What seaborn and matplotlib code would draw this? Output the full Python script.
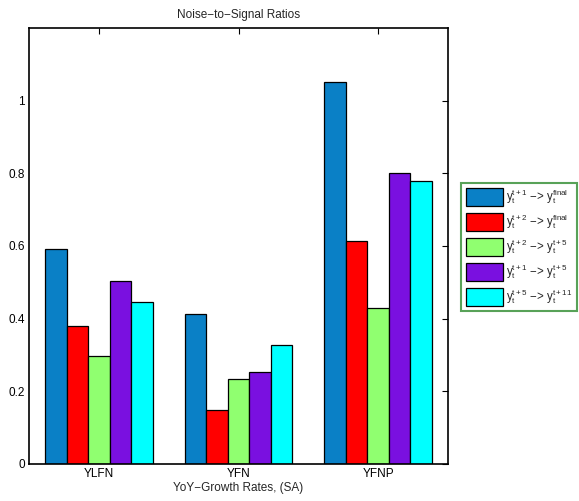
import numpy as np
import pandas as pd
import matplotlib
matplotlib.use("Agg")
import matplotlib.pyplot as plt
import matplotlib.ticker as mticker
from matplotlib.patches import Patch
import seaborn as sns

# data
groups = ["YLFN", "YFN", "YFNP"]
series = ["s1", "s2", "s3", "s4", "s5"]
labels = [
    "$y_t^{t+1}$ \u2212> $y_t^{final}$",
    "$y_t^{t+2}$ \u2212> $y_t^{final}$",
    "$y_t^{t+2}$ \u2212> $y_t^{t+5}$",
    "$y_t^{t+1}$ \u2212> $y_t^{t+5}$",
    "$y_t^{t+5}$ \u2212> $y_t^{t+11}$",
]
vals_s1 = [0.593, 0.413, 1.050]
vals_s2 = [0.380, 0.148, 0.613]
vals_s3 = [0.298, 0.234, 0.430]
vals_s4 = [0.503, 0.252, 0.800]
vals_s5 = [0.447, 0.328, 0.780]
colors = ["#0a80c6", "#ff0000", "#90ff70", "#7a10e0", "#00ffff"]

sns.set_style("white")
plt.rcParams["font.family"] = ["Liberation Sans", "DejaVu Sans"]
plt.rcParams["mathtext.fontset"] = "custom"
plt.rcParams["mathtext.rm"] = "Liberation Sans"
plt.rcParams["mathtext.it"] = "Liberation Sans"
plt.rcParams["mathtext.default"] = "regular"

rows = []
for s, v in zip(series, [vals_s1, vals_s2, vals_s3, vals_s4, vals_s5]):
    for g, x in zip(groups, v):
        rows.append({"group": g, "series": s, "value": x})
df = pd.DataFrame(rows)

fig = plt.figure(figsize=(5.79, 5.01), dpi=100)
ax = fig.add_axes([29 / 579, 37 / 501, 419 / 579, 436 / 501])

sns.barplot(data=df, x="group", y="value", hue="series", order=groups,
            hue_order=series, palette=colors, saturation=1, width=0.769,
            gap=0, edgecolor="black", linewidth=0.9, errorbar=None, ax=ax,
            legend=False)

ax.set_xlim(-0.5, 2.5)
ax.set_ylim(0, 1.2)
ax.set_yticks([0, 0.2, 0.4, 0.6, 0.8, 1.0])
ax.yaxis.set_major_formatter(mticker.FormatStrFormatter("%g"))
ax.tick_params(direction="in", length=4, width=0.8, top=True, right=True,
               labelsize=8.5, pad=3, colors="black")
for sp in ax.spines.values():
    sp.set_color("black")
    sp.set_linewidth(1.2)
    sp.set_visible(True)

ax.set_title("Noise\u2212to\u2212Signal Ratios", fontsize=8.5, pad=7)
ax.set_xlabel("YoY\u2212Growth Rates, (SA)", fontsize=8.5, labelpad=1)
ax.set_ylabel("")

handles = [Patch(facecolor=c, edgecolor="black", linewidth=0.9) for c in colors]
leg = fig.legend(handles, labels, loc="upper left",
                 bbox_to_anchor=(461 / 579, 1 - 183 / 501),
                 fontsize=8.3, frameon=True, fancybox=False,
                 handlelength=3.2, handleheight=2.0, handletextpad=0.3,
                 labelspacing=0.55, borderpad=0.4, borderaxespad=0)
leg.get_frame().set_edgecolor("#2e8b2e")
leg.get_frame().set_linewidth(1.5)

fig.savefig("out.png", dpi=100)
